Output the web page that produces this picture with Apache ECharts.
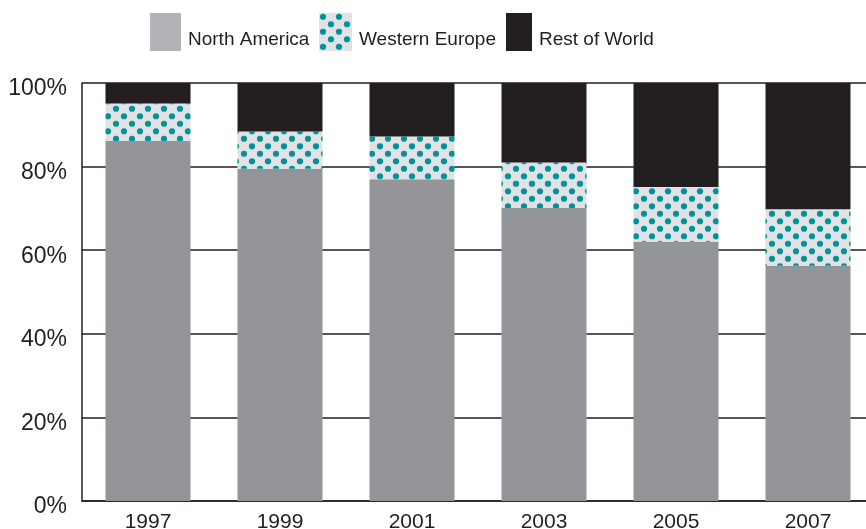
<!DOCTYPE html>
<html>
<head>
<meta charset="utf-8">
<script src="https://cdn.jsdelivr.net/npm/echarts@6/dist/echarts.min.js"></script>
<style>
  html, body { margin: 0; padding: 0; background: #fff; }
  #chart { width: 866px; height: 529px; }
</style>
</head>
<body>
<div id="chart"></div>
<script>
const years = ['1997', '1999', '2001', '2003', '2005', '2007']
const northAmerica = [86.1, 79.5, 77.0, 70.1, 62.0, 56.3]
const westernEurope = [9.0, 8.9, 10.2, 10.9, 13.1, 13.5]
const restOfWorld = [4.9, 11.6, 12.8, 19.0, 24.9, 30.2]
const yTicks = [0, 20, 40, 60, 80, 100]

const FONT = "'Liberation Sans Narrow', 'Liberation Sans', Arial, sans-serif"
const INK = '#231f20'

// dotted fill for Western Europe
function dotPattern () {
  const c = document.createElement('canvas')
  c.width = 16
  c.height = 15
  const ctx = c.getContext('2d')
  ctx.fillStyle = '#e1e2e3'
  ctx.fillRect(0, 0, 16, 15)
  ctx.fillStyle = '#00939b'
  ;[[4, 3.75], [12, 11.25]].forEach(p => {
    ctx.beginPath()
    ctx.arc(p[0], p[1], 3.1, 0, Math.PI * 2)
    ctx.fill()
  })
  return c
}
const dots = { image: dotPattern(), repeat: 'repeat' }

const chart = echarts.init(document.getElementById('chart'))

function legendAt (left, w, item) {
  return {
    left: left,
    top: 13,
    itemWidth: w,
    itemHeight: 38,
    itemGap: 0,
    padding: 0,
    formatter: '{t|{name}}',
    textStyle: {
      fontFamily: FONT,
      fontSize: 19,
      color: INK,
      padding: [0, 0, 0, 2],
      rich: {
        t: { fontFamily: FONT, fontSize: 19, color: INK, lineHeight: 34, verticalAlign: 'bottom' }
      }
    },
    data: [item],
    selectedMode: false
  }
}

const option = {
  backgroundColor: '#fff',
  animation: false,
  legend: [
    legendAt(150, 31, { name: 'North America', icon: 'rect', itemStyle: { color: '#b1b3b6' } }),
    legendAt(319, 33, { name: 'Western Europe', icon: 'rect' }),
    legendAt(506, 26, { name: 'Rest of World', icon: 'rect' })
  ],
  grid: {
    left: 82,
    top: 83,
    width: 792,
    height: 418,
    containLabel: false,
    outerBoundsMode: 'none'
  },
  xAxis: {
    type: 'category',
    data: years,
    axisLine: { lineStyle: { color: INK, width: 1.5 } },
    axisTick: { inside: true, length: 8, lineStyle: { color: INK, width: 1.5 } },
    axisLabel: { fontFamily: FONT, fontSize: 21, color: INK, margin: 11 }
  },
  yAxis: {
    type: 'value',
    min: yTicks[0],
    max: yTicks[yTicks.length - 1],
    interval: 20,
    axisLine: { show: true, lineStyle: { color: INK, width: 1.5 } },
    axisTick: { show: false },
    splitLine: { lineStyle: { color: INK, width: 1.5 } },
    axisLabel: {
      fontFamily: FONT,
      fontSize: 23,
      color: INK,
      margin: 15,
      verticalAlign: 'top',
      lineHeight: 12,
      formatter: '{value}%'
    }
  },
  series: [
    {
      name: 'North America',
      type: 'bar',
      stack: 'share',
      barWidth: 85,
      itemStyle: { color: '#939598' },
      data: northAmerica
    },
    {
      name: 'Western Europe',
      type: 'bar',
      stack: 'share',
      barWidth: 85,
      itemStyle: { color: dots },
      data: westernEurope
    },
    {
      name: 'Rest of World',
      type: 'bar',
      stack: 'share',
      barWidth: 85,
      itemStyle: { color: INK },
      data: restOfWorld
    }
  ]
}

chart.setOption(option)
</script>
</body>
</html>
